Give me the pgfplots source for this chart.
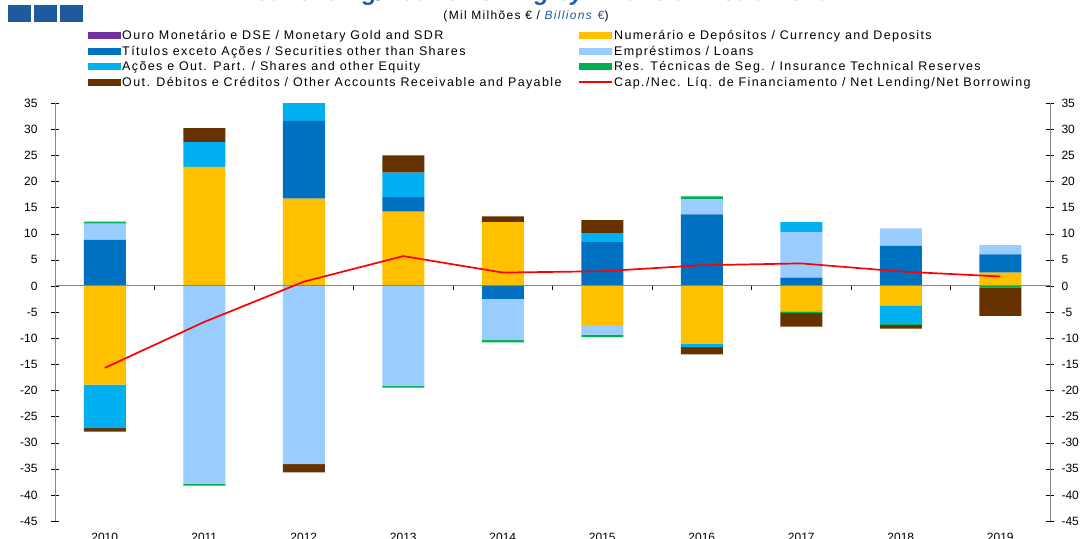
\documentclass[border=0pt]{standalone}
\usepackage{fontspec}
\setmainfont{Liberation Sans}
\usepackage{pgfplots}
\usepackage{pgfplotstable}
\pgfplotsset{compat=1.18}
\definecolor{cGold}{HTML}{7030A0}
\definecolor{cCur}{HTML}{FFC000}
\definecolor{cSec}{HTML}{0070C0}
\definecolor{cLoan}{HTML}{99CCFF}
\definecolor{cSha}{HTML}{00B0F0}
\definecolor{cIns}{HTML}{00B050}
\definecolor{cOth}{HTML}{663300}
\definecolor{cHead}{HTML}{1F5A9E}
\definecolor{cTitle}{HTML}{1F5AA6}
\definecolor{cAx}{HTML}{868686}
\newfontfamily\legfont[LetterSpace=11]{Liberation Sans}
% signed contributions (Mil Milhoes EUR), N = net lending/borrowing
\pgfplotstableread{
x G C S L E I O N
0 0 -18.9 8.8 3.1 -8.3 0.4 -0.7 -15.7
1 0 22.8 0 -37.9 4.7 -0.35 2.7 -6.9
2 0 16.7 14.9 -34.1 3.4 0 -1.6 0.8
3 0 14.2 2.8 -19.1 4.7 -0.35 3.3 5.7
4 0 12.2 -2.55 -7.85 0 -0.4 1.1 2.55
5 0 -7.5 8.5 -1.85 1.6 -0.45 2.5 2.8
6 0 -11.1 13.7 2.9 -0.6 0.55 -1.4 3.95
7 0 -4.9 1.6 8.7 1.9 -0.3 -2.6 4.3
8 0 -3.75 7.65 3.35 -3.55 -0.2 -0.7 2.75
9 0 2.55 3.5 1.75 0 -0.3 -5.45 1.8
}\data
\begin{document}
\begin{tikzpicture}[x=1pt,y=1pt]
\fill[cHead] (8,-5) rectangle (31,-22);
\fill[cHead] (34,-5) rectangle (57,-22);
\fill[cHead] (60,-5) rectangle (83,-22);
\node[anchor=base, font=\fontsize{24}{27}\selectfont\bfseries\itshape, text=cTitle, inner sep=0pt] at (532,-1) {Net Lending/Net Borrowing by Financial Instrument};
\node[anchor=base, font=\fontsize{12}{13}\selectfont\legfont, inner sep=0pt] at (526,-19) {(Mil Milhões € / \textcolor{cTitle}{\itshape Billions}\enspace\textcolor{cTitle}{€})};
\pgfplotsset{
  common/.style={
    at={(55pt,-521pt)}, anchor=south west, scale only axis,
    width=995pt, height=418pt,
    xmin=-0.5, xmax=9.5, ymin=-45, ymax=35,
    tick label style={font=\fontsize{12}{14}\selectfont},
    /pgf/number format/assume math mode=true,
  },
  barax/.style={common, ybar stacked, bar width=42pt},
}
% positive parts
\begin{axis}[barax,
  axis y line*=left, axis x line*=bottom,
  x axis line style={draw=none},
  y axis line style={cAx},
  ytick={-45,-40,...,35}, ytick align=center, major tick length=8pt,
  ytick style={black},
  yticklabel style={xshift=-10pt},
  xtick={0,...,9}, xticklabels={2010,2011,2012,2013,2014,2015,2016,2017,2018,2019},
  xtick style={draw=none}, xticklabel style={yshift=-9pt},
  legend columns=2, legend cell align=left,
  legend image code/.code={\fill[#1] (0pt,-3.5pt) rectangle (33pt,3.5pt);},
  legend style={draw=none, fill=none, at={(0.0332,1.176)}, anchor=north west,
     font=\fontsize{12.5}{15.4}\selectfont\legfont, inner sep=0pt, row sep=2.7pt,
     /tikz/every even column/.append style={column sep=16pt},
     nodes={inner sep=1pt}},
]
\addplot[fill=cGold, draw=none] table[x=x, y expr={max(\thisrow{G},0)}] {\data};
\addlegendentry{Ouro Monetário e DSE / Monetary Gold and SDR}
\addplot[fill=cCur, draw=none] table[x=x, y expr={max(\thisrow{C},0)}] {\data};
\addlegendentry{Numerário e Depósitos / Currency and Deposits}
\addplot[fill=cSec, draw=none] table[x=x, y expr={max(\thisrow{S},0)}] {\data};
\addlegendentry{Títulos exceto Ações / Securities other than Shares}
\addplot[fill=cLoan, draw=none] table[x=x, y expr={max(\thisrow{L},0)}] {\data};
\addlegendentry{Empréstimos / Loans}
\addplot[fill=cSha, draw=none] table[x=x, y expr={max(\thisrow{E},0)}] {\data};
\addlegendentry{Ações e Out. Part. / Shares and other Equity}
\addplot[fill=cIns, draw=none] table[x=x, y expr={max(\thisrow{I},0)}] {\data};
\addlegendentry{Res. Técnicas de Seg. / Insurance Technical Reserves}
\addplot[fill=cOth, draw=none] table[x=x, y expr={max(\thisrow{O},0)}] {\data};
\addlegendentry{Out. Débitos e Créditos / Other Accounts Receivable and Payable}
\addlegendimage{legend image code/.code={\draw[red, line width=1.6pt] (0pt,0pt) -- (33pt,0pt);}}
\addlegendentry{Cap./Nec. Líq. de Financiamento / Net Lending/Net Borrowing}
\end{axis}
% negative parts
\begin{axis}[barax, hide axis]
\addplot[fill=cGold, draw=none] table[x=x, y expr={min(\thisrow{G},0)}] {\data};
\addplot[fill=cCur, draw=none] table[x=x, y expr={min(\thisrow{C},0)}] {\data};
\addplot[fill=cSec, draw=none] table[x=x, y expr={min(\thisrow{S},0)}] {\data};
\addplot[fill=cLoan, draw=none] table[x=x, y expr={min(\thisrow{L},0)}] {\data};
\addplot[fill=cSha, draw=none] table[x=x, y expr={min(\thisrow{E},0)}] {\data};
\addplot[fill=cIns, draw=none] table[x=x, y expr={min(\thisrow{I},0)}] {\data};
\addplot[fill=cOth, draw=none] table[x=x, y expr={min(\thisrow{O},0)}] {\data};
\end{axis}
% zero line and net lending line
\begin{axis}[common,
  axis x line=middle, axis y line=none,
  axis line style={-, cAx, line width=0.8pt},
  xtick={0.5,1.5,...,8.5}, xticklabels={}, xtick align=outside,
  major tick length=4pt, xtick style={black},
  ytick=\empty,
]
\addplot[red, line width=1.7pt, mark=none] table[x=x, y=N] {\data};
\end{axis}
% right axis
\begin{axis}[common,
  axis x line=none, axis y line=right,
  axis line style={-, cAx},
  ytick={-45,-40,...,35}, ytick align=center, major tick length=8pt,
  ytick style={black},
  yticklabel style={xshift=4pt},
  xtick=\empty,
]
\end{axis}
\pgfresetboundingbox
\useasboundingbox (0,0) rectangle (1083,-538);
\end{tikzpicture}
\end{document}
